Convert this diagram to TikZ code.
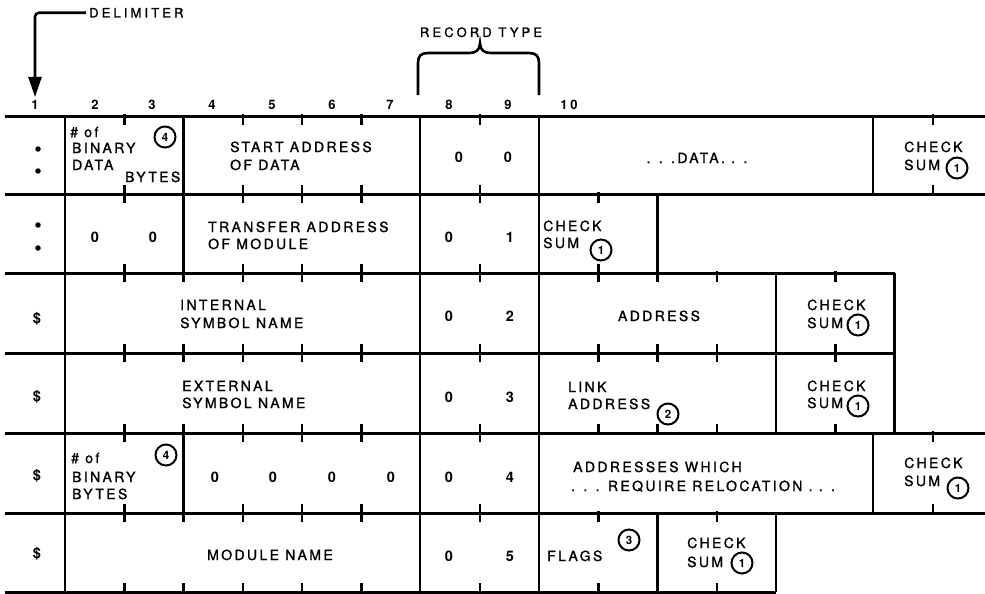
\documentclass[tikz,border=0pt]{standalone}
\usepackage{fontspec}
\usetikzlibrary{arrows.meta}
\newfontfamily\labfont[LetterSpace=17,FakeBold=1.3]{TeX Gyre Heros}
\newfontfamily\topfont[LetterSpace=24,FakeBold=1.3]{TeX Gyre Heros}
\newfontfamily\hdrfont[LetterSpace=20]{TeX Gyre Heros}
\newfontfamily\digfont{TeX Gyre Heros}
\newcommand\tickrow[3]{\foreach \xx in {#3}{\draw[tk] (\xx,#1-2) -- (\xx,#1+9); \draw[tk] (\xx,#2+2) -- (\xx,#2-9);}}
\newcommand\vrow[3]{\foreach \xx in {#3}{\draw[vl] (\xx,#1) -- (\xx,#2);}}
\tikzset{
 hl/.style={line width=3pt},
 vl/.style={line width=2.2pt},
 tk/.style={line width=2.5pt},
 lb/.style={font=\labfont\fontsize{14}{16}\selectfont, inner sep=0pt, anchor=base west},
 lbc/.style={lb, anchor=base},
 dg/.style={font=\digfont\bfseries\fontsize{14.5}{16}\selectfont, inner sep=0pt, anchor=base},
 hd/.style={font=\hdrfont\bfseries\fontsize{13}{14}\selectfont, inner sep=0pt, anchor=base},
 tp/.style={font=\topfont\fontsize{13}{14}\selectfont, inner sep=0pt},
 cn/.style={circle, draw, line width=2pt, minimum size=21pt, inner sep=0pt, font=\digfont\bfseries\fontsize{11.5}{12}\selectfont},
 dt/.style={circle, fill, inner sep=0pt, minimum size=5.5pt},
}
\begin{document}
\begin{tikzpicture}[x=1pt,y=-1pt]
\useasboundingbox (0,0) rectangle (985,594);

% ---------- top annotations ----------
\node[tp, anchor=base west] (delim) at (89,17.5) {DELIMITER};
\coordinate (dtip) at (35,97);
\draw[line width=2.6pt, rounded corners=4pt, -{Triangle[length=20pt,width=13pt]}] ([xshift=-3pt]delim.west) -| (dtip);

\node[tp, anchor=base] (rtype) at (481,37) {RECORD TYPE};
\draw[line width=2.6pt] (418,95) -- (418,63) .. controls (418,56) and (421,53) .. (428,53)
  -- (469,53) .. controls (476,53) and (480,50) .. (480,43)
  .. controls (480,50) and (484,53) .. (491,53) -- (529,53)
  .. controls (536,53) and (539,56) .. (539,63) -- (539,95);

% ---------- column numbers ----------
\foreach \n/\xx in {1/35,2/95,3/152,4/212,5/272,6/332,7/390,8/449,9/508,10/569}
  \node[hd] (h\n) at (\xx,110) {\n};

% ---------- horizontal lines ----------
\draw[hl] (5,116) -- (985,116);
\draw[hl] (5,194) -- (985,194);
\draw[hl] (5,273) -- (894.5,273);
\draw[hl] (5,353) -- (894.5,353);
\draw[hl] (5,433) -- (985,433);
\draw[hl] (5,513) -- (985,513);
\draw[hl] (5,592) -- (776,592);

% ---------- vertical lines ----------
\draw[vl] (65,116) -- (65,592);
\vrow{116}{194}{183.5,420,539,873}
\vrow{194}{273}{183.5,420,539,657.5}
\vrow{273}{353}{420,539,776,894.5}
\vrow{353}{433}{420,539,776,894.5}
\vrow{433}{513}{183.5,420,539,873}
\vrow{513}{592}{420,539,657.5,776}

% ---------- ticks ----------
\tickrow{116}{194}{124.25,242.75,302,361.25,480,933}
\tickrow{194}{273}{124.25,242.75,302,361.25,480,598.25}
\tickrow{273}{353}{124.25,183.5,242.75,302,361.25,480,598.25,657.5,716.75,835.25}
\tickrow{353}{433}{124.25,183.5,242.75,302,361.25,480,598.25,657.5,716.75,835.25}
\tickrow{433}{513}{124.25,242.75,302,361.25,480,933}
\tickrow{513}{592}{124.25,183.5,242.75,302,361.25,480,598.25,716.75}

% ---------- row 1 ----------
\node[dt] (r1a) at (38,149) {};
\node[dt] (r1b) at (38,171) {};
\node[lb] (r1n1) at (70,137) {\# of};
\node[lb] (r1n2) at (72,153) {BINARY};
\node[lb] (r1n3) at (72,170) {DATA};
\node[lb] (r1n4) at (125,182) {BYTES};
\node[cn] (r1c4) at (165,137) {4};
\node[lb] (r1s1) at (230,152) {START ADDRESS};
\node[lb] (r1s2) at (230,170) {OF DATA};
\node[dg] (r1t1) at (459,162) {0};
\node[dg] (r1t2) at (508,162) {0};
\node[lbc] (r1d) at (697,163) {. . .DATA. . .};
\node[lb] (r1k1) at (904,152) {CHECK};
\node[lb] (r1k2) at (904,170) {SUM};
\node[cn] (r1c1) at (957,168) {1};

% ---------- row 2 ----------
\node[dt] (r2a) at (38,225) {};
\node[dt] (r2b) at (38,248) {};
\node[dg] (r2z1) at (95,242) {0};
\node[dg] (r2z2) at (153,242) {0};
\node[lb] (r2s1) at (208,232) {TRANSFER ADDRESS};
\node[lb] (r2s2) at (208,249) {OF MODULE};
\node[dg] (r2t1) at (449,242) {0};
\node[dg] (r2t2) at (510,242) {1};
\node[lb] (r2k1) at (543,231) {CHECK};
\node[lb] (r2k2) at (543,248) {SUM};
\node[cn] (r2c1) at (601,250) {1};

% ---------- row 3 ----------
\node[dg] (r3d) at (37,323) {\$};
\node[lb] (r3s1) at (180,310) {INTERNAL};
\node[lb] (r3s2) at (180,328) {SYMBOL NAME};
\node[dg] (r3t1) at (449,321) {0};
\node[dg] (r3t2) at (510,321) {2};
\node[lbc] (r3a) at (659,321) {ADDRESS};
\node[lb] (r3k1) at (807,310) {CHECK};
\node[lb] (r3k2) at (807,328) {SUM};
\node[cn] (r3c1) at (858,325) {1};

% ---------- row 4 ----------
\node[dg] (r4d) at (37,401) {\$};
\node[lb] (r4s1) at (182,391) {EXTERNAL};
\node[lb] (r4s2) at (182,408) {SYMBOL NAME};
\node[dg] (r4t1) at (449,402) {0};
\node[dg] (r4t2) at (510,402) {3};
\node[lb] (r4l1) at (568,392) {LINK};
\node[lb] (r4l2) at (568,409) {ADDRESS};
\node[cn] (r4c2) at (668,414) {2};
\node[lb] (r4k1) at (807,391) {CHECK};
\node[lb] (r4k2) at (807,408) {SUM};
\node[cn] (r4c1) at (858,406) {1};

% ---------- row 5 ----------
\node[dg] (r5d) at (37,480) {\$};
\node[lb] (r5n1) at (71,463) {\# of};
\node[lb] (r5n2) at (72,482) {BINARY};
\node[lb] (r5n3) at (72,499) {BYTES};
\node[cn] (r5c4) at (166,455) {4};
\foreach \xx [count=\i] in {215,273,332,391}
  \node[dg] (r5z\i) at (\xx,482) {0};
\node[dg] (r5t1) at (449,482) {0};
\node[dg] (r5t2) at (510,482) {4};
\node[lb] (r5a1) at (573,472) {ADDRESSES WHICH};
\node[lb] (r5a2) at (571,491) {. . . REQUIRE RELOCATION . . .};
\node[lb] (r5k1) at (904,468) {CHECK};
\node[lb] (r5k2) at (904,486) {SUM};
\node[cn] (r5c1) at (958,488) {1};

% ---------- row 6 ----------
\node[dg] (r6d) at (37,558) {\$};
\node[lb] (r6m) at (207,560) {MODULE NAME};
\node[dg] (r6t1) at (449,561) {0};
\node[dg] (r6t2) at (510,561) {5};
\node[lb] (r6f) at (547,561) {FLAGS};
\node[cn] (r6c3) at (629,540) {3};
\node[lb] (r6k1) at (687,548) {CHECK};
\node[lb] (r6k2) at (687,567) {SUM};
\node[cn] (r6c1) at (742,563) {1};
\end{tikzpicture}
\end{document}
